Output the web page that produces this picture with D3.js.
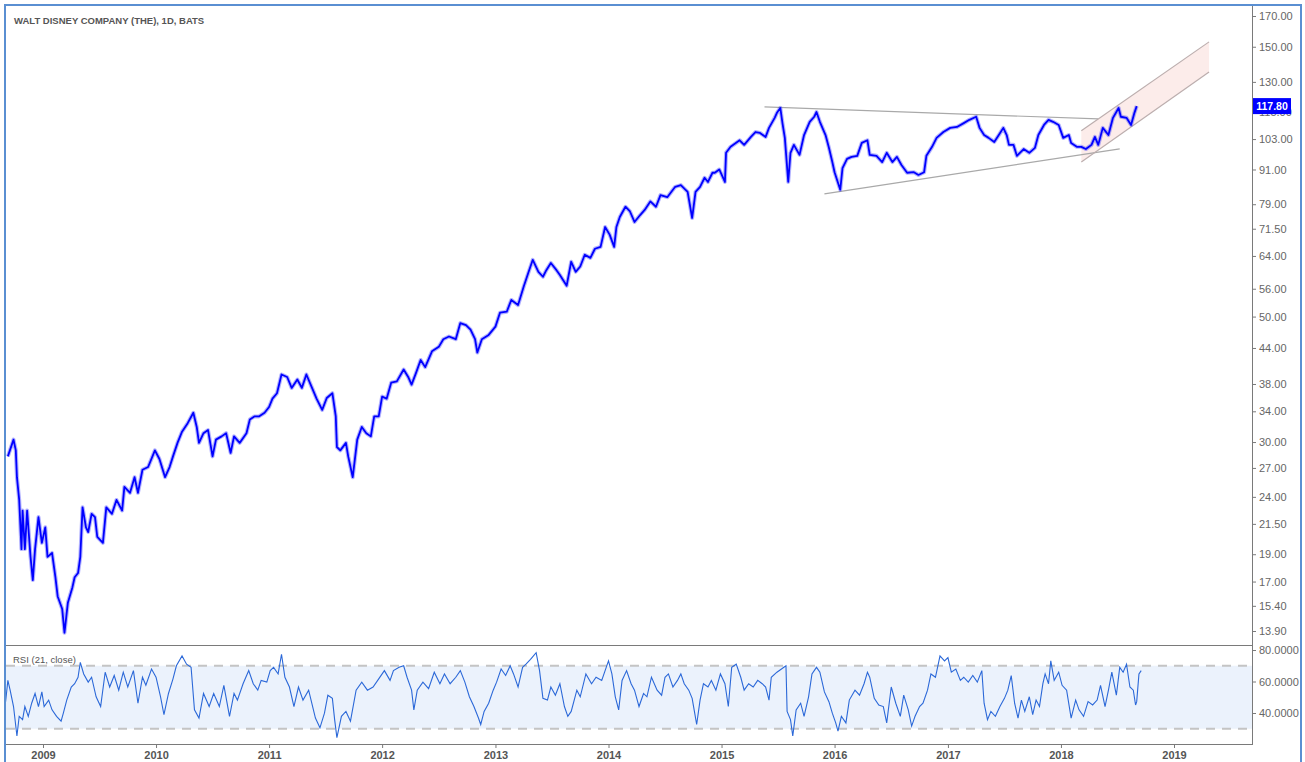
<!DOCTYPE html>
<html>
<head>
<meta charset="utf-8">
<script src="https://cdn.jsdelivr.net/npm/d3@7"></script>
<style>
  body { margin: 0; background: #fff; }
  svg { display: block; font-family: "Liberation Sans", Arial, sans-serif; }
</style>
</head>
<body>
<div id="chart"></div>
<script>
// dates are decimal years
const priceDates = [
  2008.69, 2008.74, 2008.76, 2008.77, 2008.79, 2008.81, 2008.82, 2008.84, 2008.86, 2008.89, 2008.91, 2008.93, 2008.96, 2008.99,
  2009.02, 2009.04, 2009.08, 2009.11, 2009.13, 2009.17, 2009.19, 2009.22, 2009.26, 2009.28, 2009.31, 2009.33, 2009.35, 2009.38, 2009.40, 2009.43, 2009.46, 2009.48, 2009.53, 2009.56, 2009.61, 2009.65, 2009.70, 2009.72, 2009.77, 2009.81, 2009.84, 2009.88, 2009.93, 2009.99,
  2010.03, 2010.08, 2010.12, 2010.15, 2010.19, 2010.23, 2010.28, 2010.33, 2010.36, 2010.38, 2010.42, 2010.46, 2010.50, 2010.53, 2010.58, 2010.62, 2010.66, 2010.69, 2010.74, 2010.80, 2010.83, 2010.87, 2010.91, 2010.96,
  2011.00, 2011.03, 2011.07, 2011.11, 2011.16, 2011.20, 2011.25, 2011.29, 2011.33, 2011.38, 2011.42, 2011.47, 2011.51, 2011.56, 2011.59, 2011.60, 2011.63, 2011.68, 2011.70, 2011.74, 2011.78, 2011.82, 2011.86, 2011.90, 2011.93, 2011.97,
  2012.00, 2012.04, 2012.08, 2012.13, 2012.19, 2012.23, 2012.26, 2012.30, 2012.34, 2012.38, 2012.44, 2012.50, 2012.54, 2012.59, 2012.65, 2012.69, 2012.74, 2012.78, 2012.82, 2012.84, 2012.88, 2012.94,
  2013.00, 2013.04, 2013.10, 2013.14, 2013.20, 2013.25, 2013.29, 2013.33, 2013.38, 2013.42, 2013.45, 2013.49, 2013.54, 2013.57, 2013.63, 2013.67, 2013.71, 2013.75, 2013.79, 2013.84, 2013.88, 2013.93, 2013.97,
  2014.01, 2014.05, 2014.07, 2014.10, 2014.15, 2014.19, 2014.23, 2014.28, 2014.32, 2014.37, 2014.42, 2014.46, 2014.52, 2014.59, 2014.64, 2014.70, 2014.74, 2014.77, 2014.81, 2014.85, 2014.88, 2014.92, 2014.94, 2014.98,
  2015.03, 2015.04, 2015.08, 2015.16, 2015.20, 2015.26, 2015.30, 2015.34, 2015.39, 2015.42, 2015.47, 2015.49, 2015.52, 2015.54, 2015.56, 2015.59, 2015.61, 2015.64, 2015.69, 2015.73, 2015.78, 2015.82, 2015.84, 2015.87, 2015.92, 2015.95, 2015.98,
  2016.00, 2016.05, 2016.07, 2016.11, 2016.15, 2016.20, 2016.24, 2016.29, 2016.31, 2016.37, 2016.42, 2016.46, 2016.51, 2016.55, 2016.59, 2016.64, 2016.70, 2016.74, 2016.79, 2016.81, 2016.86, 2016.90, 2016.96,
  2017.02, 2017.08, 2017.14, 2017.19, 2017.25, 2017.28, 2017.32, 2017.36, 2017.41, 2017.45, 2017.49, 2017.52, 2017.54, 2017.58, 2017.61, 2017.67, 2017.72, 2017.77, 2017.80, 2017.85, 2017.89, 2017.93, 2017.98,
  2018.02, 2018.07, 2018.09, 2018.14, 2018.18, 2018.22, 2018.27, 2018.30, 2018.33, 2018.37, 2018.42, 2018.46, 2018.51, 2018.53, 2018.58, 2018.62, 2018.65, 2018.67
];
const priceClose = [
  28.3, 30.3, 29.0, 26.0, 23.7, 19.4, 22.7, 19.4, 22.7, 18.8, 17.1, 19.4, 22.1, 19.9,
  21.2, 18.8, 19.1, 17.3, 16.0, 15.2, 13.8, 15.6, 16.6, 17.3, 17.6, 18.8, 23.0, 21.2, 20.8, 22.4, 22.1, 20.4, 19.9, 23.0, 22.4, 23.7, 22.7, 25.0, 24.4, 26.0, 24.4, 26.8, 27.1, 29.0,
  28.0, 26.0, 27.1, 28.3, 29.9, 31.3, 32.4, 33.8, 31.9, 29.9, 31.1, 31.5, 28.3, 30.3, 30.7, 31.1, 28.7, 30.7, 29.9, 31.1, 32.9, 33.3, 33.3, 33.8,
  34.6, 35.8, 36.6, 39.5, 39.1, 37.4, 38.7, 37.4, 39.5, 37.4, 35.8, 34.2, 35.9, 36.6, 33.3, 29.4, 29.0, 29.9, 28.3, 26.0, 30.3, 31.9, 31.1, 30.7, 33.3, 33.3,
  36.1, 35.8, 38.2, 38.4, 40.3, 39.1, 37.9, 39.8, 41.9, 40.7, 43.4, 44.2, 45.6, 46.1, 45.6, 48.7, 48.3, 47.4, 45.6, 43.2, 45.6, 46.4,
  48.0, 50.8, 51.0, 53.5, 52.4, 56.5, 59.7, 63.0, 60.0, 58.8, 60.4, 62.2, 60.4, 59.2, 56.7, 62.5, 60.0, 61.3, 64.3, 63.5, 65.9, 66.4, 72.0,
  69.8, 66.4, 72.0, 75.0, 78.2, 76.7, 73.5, 75.6, 77.2, 79.9, 78.2, 82.0, 81.3, 84.8, 85.4, 83.1, 74.7, 83.1, 84.8, 88.0, 86.5, 89.8, 89.8, 91.0,
  86.5, 97.4, 99.8, 102.5, 100.6, 103.9, 106.0, 105.6, 103.9, 107.8, 112.3, 114.6, 116.9, 109.6, 103.5, 86.5, 97.4, 100.6, 96.6, 104.7, 110.5, 112.8, 115.0, 110.5, 104.7, 99.4, 93.8,
  90.0, 83.8, 91.5, 95.0, 95.8, 96.2, 101.4, 102.5, 96.6, 96.2, 93.8, 97.4, 93.8, 95.8, 92.7, 89.8, 90.0, 89.0, 90.0, 96.2, 99.8, 103.5, 106.0,
  107.8, 108.2, 109.9, 111.4, 112.8, 107.8, 104.7, 103.5, 101.8, 104.7, 107.8, 104.7, 100.6, 100.6, 96.2, 98.9, 97.4, 99.4, 104.7, 109.1, 111.4, 110.5, 109.1,
  103.5, 104.7, 101.4, 99.8, 99.8, 98.9, 100.6, 103.9, 100.6, 107.8, 104.7, 112.3, 116.9, 112.8, 112.3, 109.1, 114.6, 117.8
];

const rsiDates = [
  2008.67, 2008.69, 2008.71, 2008.74, 2008.77, 2008.79, 2008.82, 2008.84, 2008.87, 2008.90, 2008.93, 2008.96, 2008.99, 2009.01, 2009.05, 2009.08, 2009.12, 2009.16, 2009.18, 2009.21,
  2009.25, 2009.28, 2009.31, 2009.33, 2009.36, 2009.40, 2009.43, 2009.47, 2009.51, 2009.55, 2009.59, 2009.63, 2009.67, 2009.71, 2009.75, 2009.80, 2009.84, 2009.88, 2009.91, 2009.96,
  2010.00, 2010.04, 2010.07, 2010.11, 2010.15, 2010.18, 2010.23, 2010.27, 2010.31, 2010.34, 2010.38, 2010.42, 2010.47, 2010.51, 2010.56, 2010.60, 2010.65, 2010.69, 2010.72, 2010.77,
  2010.82, 2010.86, 2010.90, 2010.93, 2010.98, 2011.01, 2011.04, 2011.08, 2011.11, 2011.14, 2011.18, 2011.22, 2011.26, 2011.30, 2011.35, 2011.41, 2011.45, 2011.49, 2011.52, 2011.56,
  2011.58, 2011.60, 2011.64, 2011.68, 2011.72, 2011.77, 2011.82, 2011.87, 2011.92, 2011.97, 2012.02, 2012.07, 2012.10, 2012.15, 2012.19, 2012.22, 2012.26, 2012.28, 2012.31, 2012.36,
  2012.41, 2012.46, 2012.51, 2012.55, 2012.60, 2012.65, 2012.69, 2012.73, 2012.77, 2012.81, 2012.85, 2012.87, 2012.90, 2012.94, 2012.98, 2013.01, 2013.05, 2013.09, 2013.13, 2013.16,
  2013.20, 2013.24, 2013.27, 2013.31, 2013.36, 2013.39, 2013.42, 2013.46, 2013.49, 2013.53, 2013.57, 2013.61, 2013.64, 2013.67, 2013.72, 2013.75, 2013.80, 2013.85, 2013.89, 2013.94,
  2013.97, 2014.00, 2014.03, 2014.06, 2014.09, 2014.12, 2014.16, 2014.20, 2014.23, 2014.27, 2014.31, 2014.34, 2014.38,
  2014.43, 2014.47, 2014.50, 2014.53, 2014.57, 2014.61, 2014.64, 2014.67, 2014.71, 2014.74, 2014.76, 2014.78, 2014.81, 2014.84, 2014.88, 2014.91, 2014.95, 2014.99, 2015.03, 2015.06,
  2015.09, 2015.13, 2015.17, 2015.20, 2015.24, 2015.28, 2015.32, 2015.36, 2015.39, 2015.42, 2015.44, 2015.49, 2015.53, 2015.57, 2015.58, 2015.61, 2015.63, 2015.66, 2015.70, 2015.73,
  2015.77, 2015.80, 2015.84, 2015.87, 2015.91, 2015.95, 2015.98, 2016.01, 2016.03, 2016.06, 2016.10, 2016.13, 2016.18, 2016.22, 2016.26, 2016.29, 2016.31, 2016.35, 2016.39, 2016.43,
  2016.46, 2016.50, 2016.54, 2016.58, 2016.61, 2016.65, 2016.68, 2016.71, 2016.75, 2016.78, 2016.82, 2016.85, 2016.89, 2016.93, 2016.97, 2017.00, 2017.03, 2017.07, 2017.11, 2017.14,
  2017.18, 2017.22, 2017.26, 2017.30, 2017.32, 2017.35, 2017.38, 2017.42, 2017.46, 2017.50, 2017.53, 2017.56, 2017.59, 2017.62, 2017.65, 2017.68, 2017.72, 2017.75, 2017.78, 2017.81,
  2017.84, 2017.86, 2017.89, 2017.91, 2017.94, 2017.98, 2018.01, 2018.05, 2018.09, 2018.13, 2018.16, 2018.20, 2018.24, 2018.28, 2018.32, 2018.35, 2018.39, 2018.42, 2018.45, 2018.49,
  2018.52, 2018.55, 2018.58, 2018.61, 2018.64, 2018.66, 2018.67, 2018.69, 2018.71
];
const rsiValues = [
  47.2, 60.7, 54.5, 44.1, 25.4, 37.9, 35.8, 44.1, 37.9, 46.2, 52.4, 44.1, 53.4, 44.1, 48.2, 42.0, 37.9, 34.8, 39.9, 48.2,
  56.5, 58.6, 62.7, 72.1, 64.8, 59.6, 62.7, 50.3, 44.1, 65.9, 56.5, 63.8, 54.5, 65.9, 56.5, 66.9, 46.2, 62.7, 57.6, 67.9,
  62.7, 50.3, 38.9, 52.4, 61.7, 70.0, 76.2, 71.0, 69.0, 42.0, 36.8, 52.4, 44.1, 52.4, 44.1, 57.6, 37.9, 52.4, 48.2, 58.6,
  66.9, 58.6, 54.5, 60.7, 59.6, 66.9, 69.0, 64.8, 77.3, 62.7, 56.5, 44.1, 56.5, 48.2, 54.5, 36.8, 30.6, 39.9, 51.3, 49.3,
  35.8, 24.4, 37.9, 41.0, 34.8, 54.5, 59.6, 54.5, 56.5, 61.7, 66.9, 60.7, 66.9, 69.0, 70.0, 62.7, 54.5, 42.0, 54.5, 59.6,
  55.5, 65.9, 58.6, 64.8, 58.6, 62.7, 66.9, 59.6, 50.3, 44.1, 36.8, 32.7, 41.0, 46.2, 54.5, 59.6, 67.9, 63.8, 70.0, 64.8,
  56.5, 69.0, 71.0, 74.1, 78.3, 66.9, 49.3, 48.2, 56.5, 51.3, 58.6, 44.1, 37.9, 41.0, 54.5, 50.3, 64.8, 58.6, 62.7, 60.7,
  66.9, 73.1, 64.8, 50.3, 42.0, 60.7, 66.9, 58.6, 54.5, 44.1, 52.4, 50.3, 62.7,
  54.5, 51.3, 62.7, 64.8, 56.5, 60.7, 64.8, 58.6, 54.5, 49.3, 41.0, 32.7, 48.2, 58.6, 56.5, 60.7, 54.5, 64.8, 58.6, 44.1,
  69.0, 71.0, 62.7, 54.5, 58.6, 56.5, 60.7, 58.6, 56.5, 48.2, 62.7, 65.9, 67.9, 70.0, 41.0, 35.8, 25.4, 42.0, 46.2, 37.9,
  50.3, 64.8, 69.0, 65.9, 53.4, 47.2, 39.9, 33.7, 28.5, 37.9, 33.7, 48.2, 54.5, 51.3, 58.6, 65.9, 62.7, 49.3, 45.1, 44.1,
  33.7, 56.5, 46.2, 37.9, 51.3, 42.0, 31.7, 37.9, 44.1, 46.2, 54.5, 64.8, 62.7, 76.2, 73.1, 75.2, 65.9, 67.9, 60.7, 62.7,
  59.6, 63.8, 59.6, 66.9, 46.2, 35.8, 41.0, 37.9, 44.1, 49.3, 54.5, 63.8, 46.2, 36.8, 48.2, 41.0, 50.3, 39.0, 48.2, 44.1,
  58.6, 64.8, 58.6, 73.1, 60.7, 65.9, 57.6, 54.5, 36.8, 48.2, 42.0, 37.9, 47.2, 45.1, 48.2, 57.6, 44.1, 54.5, 65.9, 51.3,
  69.0, 65.9, 71.0, 56.5, 54.5, 45.1, 47.2, 64.8, 66.9
];

const priceTicks = [13.9, 15.4, 17, 19, 21.5, 24, 27, 30, 34, 38, 44, 50, 56, 64, 71.5, 79, 91, 103, 115, 130, 150, 170];
const rsiTicks = [40, 60, 80];
const rsiBands = [70, 30];
const yearTicks = [2009, 2010, 2011, 2012, 2013, 2014, 2015, 2016, 2017, 2018, 2019];
const lastPrice = 117.80;

// drawings: [decimal year, price]
const resistanceLine = [[2015.38, 117.4], [2018.33, 111.8]];
const supportLine = [[2015.91, 82.4], [2018.52, 99.0]];
const channelTop = [[2018.18, 106.5], [2019.31, 153.0]];
const channelBottom = [[2018.18, 93.8], [2019.31, 135.4]];

const W = 1305, H = 762;
const left = 6, axisX = 1252;
const priceTop = 6, priceBottom = 645, rsiBottom = 744;

function toDate(t) {
  const yr = Math.floor(t);
  const a = new Date(yr, 0, 1), b = new Date(yr + 1, 0, 1);
  return new Date(+a + (t - yr) * (b - a));
}

const prices = priceDates.map((t, i) => ({ date: toDate(t), v: priceClose[i] }));
const rsi = rsiDates.map((t, i) => ({ date: toDate(t), v: rsiValues[i] }));

const svg = d3.select("#chart").append("svg")
  .attr("width", W).attr("height", H);

const x = d3.scaleTime().domain([toDate(2009), toDate(2019)]).range([43, 1174]);
const y = d3.scaleLog().domain([170, 13.9]).range([16, 631]);
const yR = d3.scaleLinear().domain([80, 40]).range([650, 713]);

const defs = svg.append("defs");
defs.append("clipPath").attr("id", "clipP").append("rect")
  .attr("x", left).attr("y", priceTop).attr("width", axisX - left).attr("height", priceBottom - priceTop);
defs.append("clipPath").attr("id", "clipR").append("rect")
  .attr("x", left).attr("y", priceBottom).attr("width", axisX - left).attr("height", rsiBottom - priceBottom);

// ---- price pane
const gP = svg.append("g").attr("clip-path", "url(#clipP)");

const chan = channelTop.concat(channelBottom.slice().reverse());
gP.append("path")
  .attr("d", "M" + chan.map(d => [x(toDate(d[0])), y(d[1])].join(",")).join("L") + "Z")
  .attr("fill", "#fcecea");

const seg = d3.line().x(d => x(toDate(d[0]))).y(d => y(d[1]));
[resistanceLine, supportLine].forEach(l => {
  gP.append("path").attr("d", seg(l)).attr("stroke", "#a9a9a9").attr("stroke-width", 1.2).attr("fill", "none");
});
[channelTop, channelBottom].forEach(l => {
  gP.append("path").attr("d", seg(l)).attr("stroke", "#bcaeae").attr("stroke-width", 1.2).attr("fill", "none");
});

const priceLine = d3.line().x(d => x(d.date)).y(d => y(d.v));
// soft underlay to suggest the daily bar range
gP.append("path")
  .datum(prices)
  .attr("d", priceLine)
  .attr("fill", "none")
  .attr("stroke", "#0000ff")
  .attr("stroke-opacity", 0.3)
  .attr("stroke-width", 4)
  .attr("stroke-linejoin", "round");
gP.append("path")
  .datum(prices)
  .attr("d", priceLine)
  .attr("fill", "none")
  .attr("stroke", "#0000ff")
  .attr("stroke-width", 1.8)
  .attr("stroke-linejoin", "round");

// ---- RSI pane
const gR = svg.append("g").attr("clip-path", "url(#clipR)");
gR.append("rect")
  .attr("x", left).attr("width", axisX - left)
  .attr("y", yR(rsiBands[0])).attr("height", yR(rsiBands[1]) - yR(rsiBands[0]))
  .attr("fill", "#ebf2fc");
rsiBands.forEach(b => {
  gR.append("line")
    .attr("x1", left).attr("x2", axisX).attr("y1", yR(b)).attr("y2", yR(b))
    .attr("stroke", "#c4c4c4").attr("stroke-width", 2).attr("stroke-dasharray", "9,7");
});
gR.append("path")
  .datum(rsi)
  .attr("d", d3.line().x(d => x(d.date)).y(d => yR(d.v)))
  .attr("fill", "none")
  .attr("stroke", "#2b68d8")
  .attr("stroke-width", 1.1);

// ---- frame lines
svg.append("line").attr("x1", left).attr("x2", axisX).attr("y1", priceBottom + 0.5).attr("y2", priceBottom + 0.5)
  .attr("stroke", "#7a7a7a");
svg.append("line").attr("x1", left).attr("x2", axisX).attr("y1", rsiBottom + 0.5).attr("y2", rsiBottom + 0.5)
  .attr("stroke", "#7a7a7a");
svg.append("line").attr("x1", axisX + 0.5).attr("x2", axisX + 0.5).attr("y1", 5).attr("y2", rsiBottom + 1)
  .attr("stroke", "#7a7a7a");

// ---- axes
function styleAxis(g) {
  g.select(".domain").remove();
  g.selectAll(".tick line").attr("stroke", "#7a7a7a");
  g.selectAll(".tick text").attr("fill", "#666").style("font-size", "11px");
}

svg.append("g").attr("transform", `translate(${axisX},0)`)
  .call(d3.axisRight(y).tickValues(priceTicks).tickSize(4).tickPadding(3).tickFormat(d3.format(".2f")))
  .call(styleAxis);

svg.append("g").attr("transform", `translate(${axisX},0)`)
  .call(d3.axisRight(yR).tickValues(rsiTicks).tickSize(4).tickPadding(3).tickFormat(d3.format(".4f")))
  .call(styleAxis);

svg.append("g").attr("transform", `translate(0,${rsiBottom})`)
  .call(d3.axisBottom(x).tickValues(yearTicks.map(toDate)).tickSize(4).tickPadding(3).tickFormat(d3.timeFormat("%Y")))
  .call(styleAxis)
  .call(g => g.selectAll(".tick text").style("font-weight", "bold").attr("fill", "#555"));

// last price marker (covers the 115.00 label, as in the original)
const ly = y(lastPrice);
svg.append("rect").attr("x", axisX + 1).attr("y", ly - 8).attr("width", 38).attr("height", 16).attr("fill", "#0000ff");
svg.append("text").attr("x", axisX + 20).attr("y", ly + 4)
  .attr("text-anchor", "middle")
  .attr("fill", "#fff").style("font-size", "10.5px").style("font-weight", "bold")
  .text(d3.format(".2f")(lastPrice));

// ---- titles
svg.append("text").attr("x", 14).attr("y", 24)
  .attr("fill", "#555").style("font-size", "9.5px").style("font-weight", "bold")
  .text("WALT DISNEY COMPANY (THE), 1D, BATS");
svg.append("text").attr("x", 13).attr("y", 663)
  .attr("fill", "#555").style("font-size", "9.5px")
  .text("RSI (21, close)");

// ---- outer border
svg.append("path")
  .attr("d", `M5,${H} V5 H1301 V${H}`)
  .attr("fill", "none").attr("stroke", "#5a8fd2").attr("stroke-width", 2);
</script>
</body>
</html>
